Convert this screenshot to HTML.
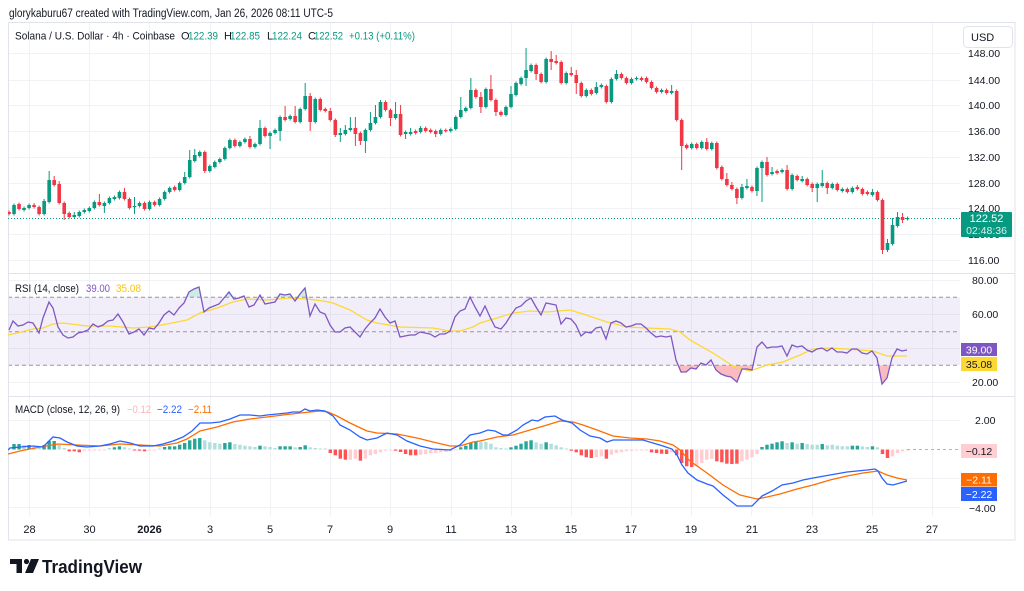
<!DOCTYPE html>
<html><head><meta charset="utf-8">
<style>
html,body{margin:0;padding:0;background:#fff;}
svg{display:block;font-family:"Liberation Sans",sans-serif;}
</style></head><body>
<svg width="1024" height="591" viewBox="0 0 1024 591">
<defs>
<clipPath id="plot"><rect x="8" y="22" width="952" height="494"/></clipPath>
<clipPath id="os"><rect x="8" y="365.3" width="952" height="31"/></clipPath>
<clipPath id="ob"><rect x="8" y="274" width="952" height="23.3"/></clipPath>
<linearGradient id="osg" x1="0" y1="0" x2="0" y2="1"><stop offset="0" stop-color="#f7c5c8" stop-opacity="0.5"/><stop offset="1" stop-color="#f23645" stop-opacity="0.35"/></linearGradient>
</defs>
<rect width="1024" height="591" fill="#fff"/>
<text x="9" y="17" font-size="11.5" fill="#131722" textLength="324" lengthAdjust="spacingAndGlyphs">glorykaburu67 created with TradingView.com, Jan 26, 2026 08:11 UTC-5</text>

<g id="grid" stroke="#f0f2f5" stroke-width="1"></g>

<!-- RSI band -->
<rect x="8" y="297.3" width="952" height="68" fill="#7e57c2" fill-opacity="0.1"/>
<g stroke="#9598a1" stroke-width="1" stroke-dasharray="4,3">
<line x1="8" x2="960" y1="297.3" y2="297.3"/>
<line x1="8" x2="960" y1="331.7" y2="331.7"/>
<line x1="8" x2="960" y1="365.3" y2="365.3"/>
</g>

<!-- pane separators & frame -->
<g stroke="#e0e3eb" stroke-width="1">
<line x1="8" x2="1015" y1="273.5" y2="273.5"/>
<line x1="8" x2="1015" y1="396.5" y2="396.5"/>
</g>
<rect x="8.5" y="22.5" width="1006.5" height="517.5" fill="none" stroke="#e0e3eb" stroke-width="1"/>

<g clip-path="url(#plot)">
<line x1="8" x2="960" y1="218.5" y2="218.5" stroke="#089981" stroke-width="1" stroke-dasharray="1,2"/>
<g id="candles"></g>
<polygon id="obfill" clip-path="url(#ob)" fill="#089981" fill-opacity="0.2"/>
<polygon id="osfill" clip-path="url(#os)" fill="url(#osg)"/>
<polyline id="rsima" fill="none" stroke="#fdd835" stroke-width="1.3"/>
<polyline id="rsi" fill="none" stroke="#7e57c2" stroke-width="1.3"/>
<g id="hist"></g>
<line x1="907" x2="960" y1="449.5" y2="449.5" stroke="#b2b5be" stroke-width="1" stroke-dasharray="3,3"/>
<polyline id="sig" fill="none" stroke="#ff6d00" stroke-width="1.3"/>
<polyline id="macd" fill="none" stroke="#2962ff" stroke-width="1.3"/>
</g>

<!-- legends -->
<g font-size="11">
<text x="15" y="39.5" fill="#131722" textLength="160" lengthAdjust="spacingAndGlyphs">Solana / U.S. Dollar · 4h · Coinbase</text>
<text x="181" y="39.5" fill="#131722">O</text><text x="188" y="39.5" fill="#089981" textLength="30" lengthAdjust="spacingAndGlyphs">122.39</text>
<text x="224" y="39.5" fill="#131722">H</text><text x="230" y="39.5" fill="#089981" textLength="30" lengthAdjust="spacingAndGlyphs">122.85</text>
<text x="267" y="39.5" fill="#131722">L</text><text x="272" y="39.5" fill="#089981" textLength="30" lengthAdjust="spacingAndGlyphs">122.24</text>
<text x="308" y="39.5" fill="#131722">C</text><text x="314" y="39.5" fill="#089981" textLength="29" lengthAdjust="spacingAndGlyphs">122.52</text>
<text x="349" y="39.5" fill="#089981" textLength="66" lengthAdjust="spacingAndGlyphs">+0.13 (+0.11%)</text>

<text x="15" y="292" fill="#131722" textLength="64" lengthAdjust="spacingAndGlyphs">RSI (14, close)</text>
<text x="86" y="292" fill="#7e57c2" textLength="24" lengthAdjust="spacingAndGlyphs">39.00</text>
<text x="116" y="292" fill="#f5c518" textLength="25" lengthAdjust="spacingAndGlyphs">35.08</text>

<text x="15" y="413" fill="#131722" textLength="105" lengthAdjust="spacingAndGlyphs">MACD (close, 12, 26, 9)</text>
<text x="127" y="413" fill="#f8b4bb" textLength="24" lengthAdjust="spacingAndGlyphs">−0.12</text>
<text x="157" y="413" fill="#2962ff" textLength="25" lengthAdjust="spacingAndGlyphs">−2.22</text>
<text x="188" y="413" fill="#ff6d00" textLength="24" lengthAdjust="spacingAndGlyphs">−2.11</text>
</g>

<!-- right axis labels -->
<g font-size="10.5" fill="#131722">
<text x="968" y="57">148.00</text>
<text x="968" y="84">144.00</text>
<text x="968" y="109">140.00</text>
<text x="968" y="135">136.00</text>
<text x="968" y="161">132.00</text>
<text x="968" y="187">128.00</text>
<text x="968" y="212">124.00</text>
<text x="968" y="238">120.00</text>
<text x="968" y="264">116.00</text>
<text x="972" y="284">80.00</text>
<text x="972" y="318">60.00</text>
<text x="972" y="386">20.00</text>
<text x="975" y="424">2.00</text>
<text x="969" y="512">−4.00</text>
</g>

<!-- USD box -->
<rect x="963.5" y="26.5" width="49" height="21" rx="4" fill="#fff" stroke="#e0e3eb"/>
<text x="971" y="41" font-size="11" fill="#131722">USD</text>

<!-- price label -->
<rect x="961" y="212" width="51" height="25" rx="1" fill="#089981"/>
<text x="986.5" y="222" font-size="11" fill="#fff" text-anchor="middle">122.52</text>
<text x="986.5" y="234" font-size="10.5" fill="#fff" fill-opacity="0.85" text-anchor="middle">02:48:36</text>

<!-- RSI labels -->
<rect x="961" y="343" width="36" height="13" fill="#7e57c2"/>
<text x="979" y="353.5" font-size="10.5" fill="#fff" text-anchor="middle">39.00</text>
<rect x="961" y="357" width="36" height="14" fill="#fdd835"/>
<text x="979" y="368" font-size="10.5" fill="#131722" text-anchor="middle">35.08</text>

<!-- MACD labels -->
<rect x="961" y="444" width="36" height="14" fill="#ffcdd2"/>
<text x="979" y="455" font-size="10.5" fill="#131722" text-anchor="middle">−0.12</text>
<rect x="961" y="473" width="36" height="13.5" fill="#ff6d00"/>
<text x="979" y="483.5" font-size="10.5" fill="#fff" text-anchor="middle">−2.11</text>
<rect x="961" y="487" width="36" height="14" fill="#2962ff"/>
<text x="979" y="498" font-size="10.5" fill="#fff" text-anchor="middle">−2.22</text>

<!-- time axis -->
<g font-size="11" fill="#131722" text-anchor="middle">
<text x="29.5" y="533">28</text>
<text x="89.5" y="533">30</text>
<text x="149.5" y="533" font-weight="bold">2026</text>
<text x="210" y="533">3</text>
<text x="270" y="533">5</text>
<text x="330" y="533">7</text>
<text x="390" y="533">9</text>
<text x="451" y="533">11</text>
<text x="511" y="533">13</text>
<text x="571" y="533">15</text>
<text x="631" y="533">17</text>
<text x="691" y="533">19</text>
<text x="752" y="533">21</text>
<text x="812" y="533">23</text>
<text x="872" y="533">25</text>
<text x="932" y="533">27</text>
</g>

<!-- logo -->
<g fill="#131722">
<path d="M10 559 H22 V573 H16.5 V564 H10 Z"/>
<circle cx="26.5" cy="561.5" r="2.6"/>
<path d="M31 559 H39 L33 573 H25 Z"/>
</g>
<text x="42" y="573" font-size="18" font-weight="bold" fill="#131722" textLength="100" lengthAdjust="spacingAndGlyphs">TradingView</text>
</svg>

<script>
(function(){
var X=function(i){return 9+5.02*i;};
// grid
var g='';
[29.5,89.5,149.5,210.5,270.5,330.5,390.5,451.5,511.5,571.5,631.5,691.5,751.5,812.5,872.5,932.5].forEach(function(x){
 g+='<line x1="'+x+'" x2="'+x+'" y1="23" y2="516"/>';
});
[53,80,105,131,157,183,208,234,260,280,314,348,382,420,478,507].forEach(function(y){
 g+='<line x1="8" x2="960" y1="'+(y+0.5)+'" y2="'+(y+0.5)+'"/>';
});
document.getElementById('grid').innerHTML=g;

var C=[[212,214,0],[205,214,1],[204,209,0],[208,210,1],[205,208,1],[205,207,0,203],[207,214,0],[201,214,1,199],[180,202,1,171],[180,185,0,176],
[184,203,0,181],[203,214,0,0,220],[213,217,0],[215,217,1,212],[212,216,1],[210,212,1],[208,211,1],[202,208,1],[202,205,0,194],[203,206,1,0,213],
[198,203,1],[197,199,1],[192,198,1],[192,199,0,188],[199,208,0],[206,207,1,197,214],[203,206,1],[203,209,0],[202,209,1],[202,205,0],
[199,205,1],[192,199,1],[188,192,1],[187,190,0],[183,190,1],[177,183,1,172],[160,177,1,150],[155,161,1,149],[152,156,1],[152,171,0,0,173],
[166,171,1],[162,167,1],[159,162,1],[148,159,1],[140,148,1],[140,146,0],[142,146,1],[139,142,1],[139,147,0,136],[144,147,1],
[128,144,1,120],[128,136,0],[133,136,1,0,149],[130,133,1],[117,131,1,0,141],[117,120,0,106],[116,119,1],[116,122,0,106],[109,122,1],[96,109,1,83],
[96,122,0,93,131],[99,122,1],[99,110,0],[109,111,0],[111,120,0,108],[120,135,0,0,137],[133,135,1,128,142],[130,134,1,125],[128,130,1,117],[128,134,0,117,146],
[133,141,0,0,145],[130,141,1,0,153],[123,130,1,112],[117,123,1,105],[102,117,1,100],[102,110,0],[110,118,0,0,126],[114,118,1,102],[114,135,0,105],[132,134,1,0,139],
[132,134,1,128],[131,133,0],[128,132,1,126],[128,131,0],[130,132,0],[131,134,0,0,137],[130,134,1],[130,131,0],[129,131,1],[117,129,1],
[110,117,1,97],[108,111,1],[90,108,1,78],[90,97,0],[97,107,0,92,113],[89,107,1],[89,100,0,75],[100,112,0,0,116],[112,115,0],[107,115,1],
[94,107,1,86],[83,95,1],[78,84,1],[70,78,1,48,86],[65,71,1],[65,74,0,0,80],[74,82,0],[59,82,1],[59,62,0,51,70],[61,63,0,55],
[62,83,0],[73,83,1],[73,75,0,67],[75,83,0,70,94],[83,96,0],[90,96,1],[90,94,0],[87,93,1,82],[85,87,1],[86,102,0],
[79,102,1],[74,79,1,70],[74,78,0],[78,83,0],[79,83,1],[78,79,1],[78,80,0],[78,82,0],[82,88,0],[88,92,0],
[90,92,1],[90,93,0],[91,93,1,85],[91,120,0],[120,146,0,0,170],[145,148,0],[144,148,1],[144,148,0],[142,148,1],[142,149,0,138],
[143,149,1],[143,168,0],[167,179,0],[179,185,0,173],[185,189,0,182],[189,198,0,0,204],[187,198,1,184],[186,188,1,179],[187,191,0],[168,191,1,0,196],
[162,168,1,0,202],[162,175,0,157],[172,174,1,167],[171,173,0],[170,172,1],[170,189,0,165],[175,189,1],[176,180,0],[179,181,1,176],[179,185,0],
[184,188,0,0,192],[184,188,1,0,202],[183,186,1,170],[183,188,0,0,194],[184,188,1],[184,190,0],[189,191,1],[189,192,0],[188,192,1],[187,189,0,185],
[189,194,0],[192,194,0],[192,195,1,189],[192,200,0],[200,250,0,0,254],[243,250,1,239,252],[225,244,1,218],[217,226,1,212],[217,220,0,213,223],[218,219,1]];
var s='';
C.forEach(function(c,i){
 var x=X(i),col=c[2]?'#089981':'#f23645';
 var wt=c[3]||c[0]-1.5,wb=c[4]||c[1]+1.5;
 s+='<line x1="'+x.toFixed(2)+'" x2="'+x.toFixed(2)+'" y1="'+wt+'" y2="'+wb+'" stroke="'+col+'" stroke-width="1"/>';
 var h=Math.max(c[1]-c[0],1.2);
 s+='<rect x="'+(x-1.8).toFixed(2)+'" y="'+c[0]+'" width="3.6" height="'+h+'" fill="'+col+'"/>';
});
document.getElementById('candles').innerHTML=s;

// histogram
var H1=[[444,'G'],[444,'G'],[445,'L'],[445,'G'],[446,'L'],[446,'L'],[445,'G'],[441,'G'],[441,'G'],[445,'L'],
[448,'L'],[451.3,'R'],[451.3,'R'],[452.3,'R'],[450.7,'P'],[450.3,'P'],[450.2,'P'],[450.2,'P'],[450.5,'P'],[448,'L'],
[447.3,'G'],[446.3,'G'],[447.3,'L'],[448.7,'L'],[450.3,'R'],[450.7,'R'],[451.3,'R'],[450.3,'P'],[450.2,'P'],[449,'L'],
[447,'G'],[446.3,'G'],[446.3,'G'],[444.7,'G'],[443,'G'],[440.3,'G'],[438.7,'G'],[438,'G'],[440.3,'L'],[442.3,'L'],
[443,'L'],[443.7,'L'],[443,'G'],[442.3,'G'],[444,'L'],[444.7,'L'],[445.7,'L'],[446.3,'L'],[447,'L'],[445.7,'G'],
[446.3,'L'],[447,'L'],[448,'L'],[446.3,'G'],[446.3,'G'],[446.3,'G'],[447.3,'L'],[447,'G'],[445.3,'G'],[447.3,'L'],
[448,'L'],[448.7,'L'],[449,'L'],[453,'R'],[455.3,'R'],[458.7,'R'],[459.7,'R'],[459.7,'P'],[458.7,'P'],[460.7,'R'],
[458.7,'P'],[455.3,'P'],[454,'P'],[452.3,'P'],[450.7,'P'],[450.2,'P'],[450.7,'R'],[452,'R'],[454,'R'],[455.3,'R'],
[455.3,'R'],[454.7,'P'],[454,'P'],[453.3,'P'],[453,'P'],[452.3,'P'],[452,'P'],[451.3,'P'],[450.3,'P'],[447.3,'G'],
[445.7,'G'],[443,'G'],[442,'G']];
var H2=[[442,'L'],[442,'L'],[443.7,'L'],[447.3,'L'],[448,'L'],[448.7,'L'],[447.3,'G'],[445.7,'G'],[443.7,'G'],[441.3,'G'],
[440.3,'G'],[442.3,'L'],[443.7,'L'],[442.3,'G'],[443.7,'L'],[445.3,'L'],[447.3,'L'],[448.7,'L'],[450.7,'R'],[452.3,'R'],
[455.3,'R'],[457.3,'R'],[458,'R'],[457.3,'P'],[456.3,'P'],[458.7,'R'],[454.7,'P'],[453,'P'],[452,'P'],[451.3,'P'],
[450.7,'P'],[450.3,'P'],[450.3,'P'],[450.2,'P'],[452.3,'R'],[453,'R'],[453.7,'R'],[454,'R'],[452.3,'P'],[455.3,'R'],
[463,'R'],[466.3,'R'],[467,'R'],[466.3,'P'],[463,'P'],[459.7,'P'],[459,'P'],[461.3,'R'],[462.3,'R'],[463.7,'R'],
[464,'R'],[463.7,'R'],[461.3,'P'],[459.7,'P'],[457.3,'P'],[454,'P'],[447,'G'],[444.7,'G'],[443.7,'G'],[442.3,'G'],
[441.3,'G'],[443,'L'],[442.3,'G'],[443.7,'L'],[443,'G'],[444,'L'],[444.7,'L'],[444.7,'L'],[444,'G'],[445.3,'L'],
[444.7,'L'],[445.7,'L'],[446.3,'L'],[446.3,'L'],[445.7,'G'],[445.7,'G'],[446.3,'L'],[447,'L'],[446.3,'G'],[447.3,'L'],
[454,'R'],[458,'R'],[456.3,'P'],[453,'P'],[451.3,'P'],[450.3,'P']];
var HC={G:'#26a69a',L:'#b2dfdb',R:'#ff5252',P:'#ffcdd2'};
var Z=449.5,hs='';
H1.concat(H2).forEach(function(h,k){
 var x=X(k+1),y=h[0],t=Math.min(y,Z),b=Math.max(y,Z);
 if(b-t<1){ if(y<Z){t=Z-1;} else {b=Z+1;} }
 hs+='<rect x="'+(x-1.7).toFixed(2)+'" y="'+t+'" width="3.4" height="'+(b-t).toFixed(2)+'" fill="'+HC[h[1]]+'"/>';
});
document.getElementById('hist').innerHTML=hs;

var rsi="9,330 13,321 18,326 23,325 28,322 33,323 39,333 43,318 49,302 53,308 58,327 63,335 68,338 73,337 78,333 83,332 88,330 93,324 98,327 103,325 108,321 113,320 118,314 123,322 129,334 134,332 139,329 144,335 149,328 154,329 159,323 164,315 169,311 174,315 179,308 184,303 189,292 194,289 199,287 204,312 209,308 214,306 219,304 224,298 229,292 234,299 239,298 244,296 249,307 254,305 260,295 265,304 270,303 275,302 280,294 285,295 290,294 295,301 300,294 305,288 310,316 315,304 320,312 325,314 330,325 335,332 340,332 345,328 350,327 355,332 360,337 365,329 370,323 375,318 380,309 385,317 390,323 395,321 400,337 405,336 410,335 415,335 420,332 425,333 430,334 435,337 440,334 445,334 450,331 455,317 460,311 465,309 470,297 475,307 480,316 485,306 490,317 495,327 501,329 506,323 511,315 516,308 521,306 526,301 531,298 536,307 541,315 546,303 551,304 556,305 561,324 566,318 571,319 576,325 581,336 586,332 591,333 596,328 601,327 606,339 611,323 616,321 621,323 626,327 631,326 636,324 641,324 646,328 651,333 656,337 661,336 666,337 671,336 676,360 681,372 686,372 691,368 696,369 701,363 706,365 711,360 716,370 721,374 726,376 731,377 737,382 742,369 747,369 752,370 757,347 762,342 767,348 772,347 777,347 782,346 787,356 792,345 797,347 802,346 807,350 812,352 817,349 822,348 827,351 832,348 837,352 842,352 847,353 852,349 857,349 862,353 867,354 872,351 877,358 882,384 887,378 892,358 897,349 902,351 907,350";
document.getElementById('rsi').setAttribute('points',rsi);
document.getElementById('osfill').setAttribute('points',rsi+" 907,365.3 9,365.3");
document.getElementById('obfill').setAttribute('points',rsi+" 907,297.3 9,297.3");
document.getElementById('rsima').setAttribute('points',"8,335 17,333 33,329 43,328 53,324 63,323 87,326 110,326 133,328 150,327 167,324 187,320 200,313 217,308 233,302 247,299 267,300 290,298 307,299 323,301 333,303 350,310 367,320 377,323 400,327 433,328 450,331 460,331 473,327 480,323 497,318 513,313 530,311 547,312 570,310 583,314 607,322 627,327 647,328 670,329 680,332 690,340 713,353 733,366 750,371 767,365 783,362 800,355 813,349 830,348 847,349 873,351 887,356 907,356");
document.getElementById('macd').setAttribute('points',"8,450 10,448 20,447 33,446 43,447 53,437 60,438 67,442 77,446 87,447 100,446 110,444 120,441 130,443 140,446 153,446 163,444 173,441 183,437 192,431 200,423 210,423 220,422 230,419 240,415 250,415 260,416 267,415 277,414 287,413 293,412 300,412 305,409 310,411 317,410 325,411 333,416 340,425 350,430 360,437 367,440 377,438 387,433 397,435 407,441 420,446 433,449 450,450 460,445 470,435 480,433 488,430 495,431 503,435 508,435 517,430 523,425 532,420 538,421 545,417 555,416 562,420 572,423 580,430 590,436 600,438 607,442 613,440 623,440 643,440 653,443 663,446 672,449 677,455 682,465 688,473 697,480 707,484 713,486 723,495 737,506 752,506 762,496 772,491 782,485 793,483 803,480 813,478 830,475 847,472 857,471 867,470 875,469 878,471 882,478 887,484 893,485 907,481");
document.getElementById('sig').setAttribute('points',"8,454 20,451 40,447 58,444 77,445 100,446 120,444 140,445 160,446 177,443 187,439 200,431 217,427 233,422 250,419 267,417 283,415 300,413 320,411 328,412 337,416 350,423 367,431 377,433 397,434 417,438 433,442 450,446 460,446 473,442 480,441 497,437 513,435 530,430 547,425 560,421 573,422 583,425 597,430 613,436 630,438 647,439 660,441 673,445 680,450 690,461 707,473 723,485 740,495 757,499 767,497 780,494 797,489 813,485 830,480 847,476 863,473 878,471 887,475 897,478 907,480");
})();
</script>
</body></html>
